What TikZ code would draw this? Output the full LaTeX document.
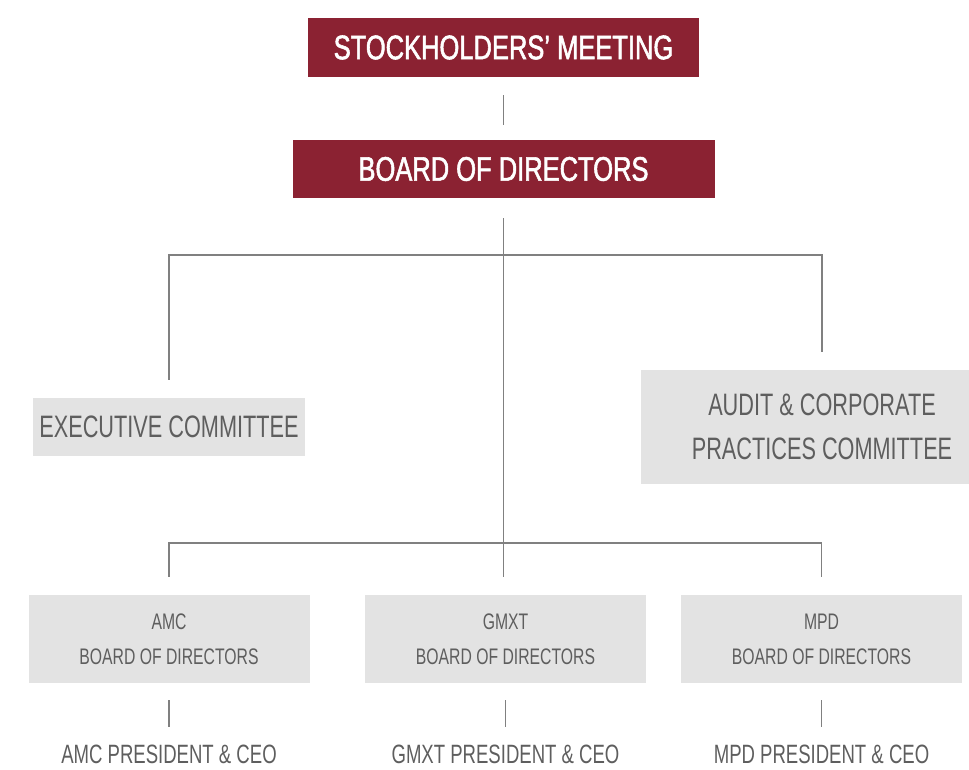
\documentclass[tikz,border=0pt]{standalone}
\usepackage{fontspec}
\setmainfont[FakeStretch=0.7]{Liberation Sans}
\newfontfamily\headfont[FakeStretch=0.75,FakeBold=1.6]{Liberation Sans}

\definecolor{boardred}{HTML}{8B2232}
\definecolor{boxgray}{HTML}{E3E3E3}
\definecolor{textgray}{HTML}{5E5E5E}
\definecolor{linegray}{HTML}{808080}

\tikzset{
  redbox/.style={fill=boardred, text=white, inner sep=0pt, font=\headfont\fontsize{34}{40}\selectfont},
  graybox/.style={fill=boxgray, text=textgray, inner sep=0pt, align=center},
  bigtext/.style={font=\fontsize{31}{44}\selectfont},
  subbox/.style={graybox, minimum width=281pt, minimum height=88pt, font=\fontsize{22.5}{35}\selectfont},
  ceotext/.style={text=textgray, inner sep=0pt, font=\fontsize{26.5}{32}\selectfont},
  conn/.style={draw=linegray, line width=1.3pt}
}

\begin{document}
\begin{tikzpicture}[x=1pt,y=-1pt]
        \useasboundingbox (0,0) rectangle (969,770);

        \node[redbox, minimum width=391pt, minimum height=59pt] (meeting) at (503.5,47.5) {STOCKHOLDERS’ MEETING};
        \node[redbox, minimum width=422pt, minimum height=58pt] (board)   at (503.5,169)  {BOARD OF DIRECTORS};

        \node[graybox, bigtext, minimum width=272pt, minimum height=58pt]  (exec)  at (169,427) {EXECUTIVE COMMITTEE};
        \node[graybox, bigtext, minimum width=362pt, minimum height=114pt] (audit) at (822,427) {AUDIT \& CORPORATE\\PRACTICES COMMITTEE};

        \node[subbox] (amc)  at (169,639)   {AMC\\BOARD OF DIRECTORS};
        \node[subbox] (gmxt) at (505.5,639) {GMXT\\BOARD OF DIRECTORS};
        \node[subbox] (mpd)  at (821.5,639) {MPD\\BOARD OF DIRECTORS};

        \node[ceotext] (amcceo)  at (169,754)   {AMC PRESIDENT \& CEO};
        \node[ceotext] (gmxtceo) at (505.5,754) {GMXT PRESIDENT \& CEO};
        \node[ceotext] (mpdceo)  at (821.5,754) {MPD PRESIDENT \& CEO};

        \coordinate (topbus) at (503.5,255);
        \coordinate (lowbus) at (503.5,543);

        \draw[conn] ([yshift=-18pt]meeting.south) -- ([yshift=15pt]board.north);
        \draw[conn] ([yshift=-20pt]board.south) -- ([yshift=18pt]gmxt.north -| lowbus);
        \draw[conn] ([yshift=18pt]exec.north) |- (topbus) -| ([yshift=18pt]audit.north);
        \draw[conn] ([yshift=18pt]amc.north) |- (lowbus) -| ([yshift=18pt]mpd.north);

        \draw[conn] ([yshift=-17pt]amc.south)  -- ([yshift=17pt]amcceo.north);
        \draw[conn] ([yshift=-17pt]gmxt.south) -- ([yshift=17pt]gmxtceo.north);
        \draw[conn] ([yshift=-17pt]mpd.south)  -- ([yshift=17pt]mpdceo.north);
\end{tikzpicture}
\end{document}
